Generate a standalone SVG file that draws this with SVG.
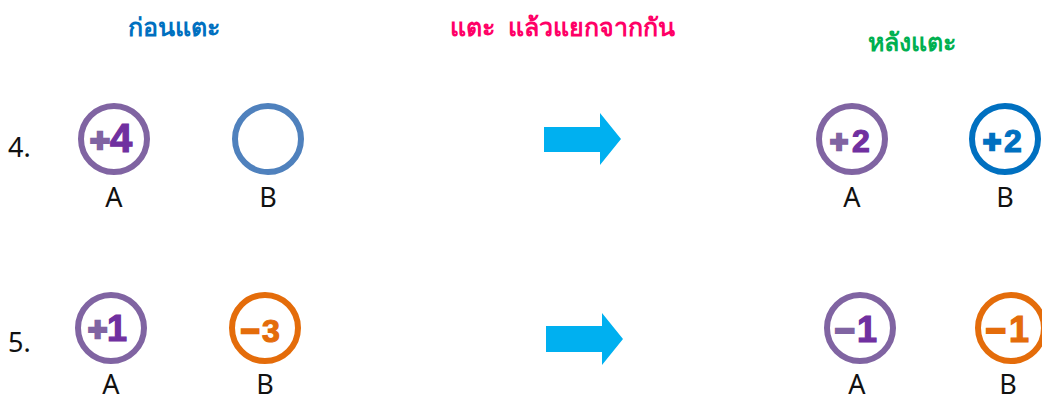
<svg xmlns="http://www.w3.org/2000/svg" width="1042" height="400" viewBox="0 0 1042 400">
<style>
.title{font-family:"Noto Sans","DejaVu Sans",sans-serif;font-weight:bold;font-size:25px}
.lbl{font-family:"Noto Sans","Open Sans",sans-serif;font-size:27px;fill:#111}
.num{font-family:"Liberation Sans",Arial,sans-serif;font-weight:bold}
.sg{stroke-width:2.6;stroke-linejoin:miter}
.dg{stroke-width:1.2}
.ring{fill:none;stroke-width:6}
.purple{stroke:#8064a2}
.sign-p{fill:#8064a2;stroke:#8064a2}
.dig-p{fill:#7030a0;stroke:#7030a0}
.blue{fill:#0070c0;stroke:#0070c0}
.orange{fill:#e46c0a;stroke:#e46c0a}
.arrow{fill:#00b0f0}
</style>
<rect width="1042" height="400" fill="#fff"/>
<g id="titles">
<text class="title" x="128" y="36" fill="#0070c0">ก่อนแตะ</text>
<text class="title" x="450" y="36" fill="#ff0066" xml:space="preserve">แตะ  แล้วแยกจากกัน</text>
<text class="title" x="868" y="51" fill="#00b050">หลังแตะ</text>
</g>
<g id="row4-label"><text class="lbl" x="8" y="157">4.</text></g>
<g id="row5-label"><text class="lbl" x="8" y="352">5.</text></g>
<g id="r4-before-A">
<circle class="ring purple" cx="114" cy="139" r="33"/>
<text class="num" y="152"><tspan class="sign-p sg" x="90" font-size="34">+</tspan><tspan class="dig-p dg" x="110" font-size="40">4</tspan></text>
<text class="lbl" x="114" y="207" text-anchor="middle">A</text>
</g>
<g id="r4-before-B">
<circle class="ring" stroke="#4f81bd" cx="268" cy="139" r="33"/>
<text class="lbl" x="268" y="207" text-anchor="middle">B</text>
</g>
<g id="r4-after-A">
<circle class="ring purple" cx="852" cy="139" r="33"/>
<text class="num" y="152"><tspan class="sign-p sg" x="830" font-size="31">+</tspan><tspan class="dig-p dg" x="852" font-size="32">2</tspan></text>
<text class="lbl" x="852" y="207" text-anchor="middle">A</text>
</g>
<g id="r4-after-B">
<circle class="ring" stroke="#0070c0" cx="1005" cy="139" r="33"/>
<text class="num blue" y="152"><tspan class="sg" x="983" font-size="31">+</tspan><tspan class="dg" x="1004" font-size="32">2</tspan></text>
<text class="lbl" x="1005" y="207" text-anchor="middle">B</text>
</g>
<g id="r5-before-A">
<circle class="ring purple" cx="111" cy="328" r="33"/>
<text class="num" y="341"><tspan class="sign-p sg" x="88" font-size="33">+</tspan><tspan class="dig-p dg" x="107" font-size="36">1</tspan></text>
<text class="lbl" x="111" y="394" text-anchor="middle">A</text>
</g>
<g id="r5-before-B">
<circle class="ring" stroke="#e46c0a" cx="265" cy="328" r="33"/>
<text class="num orange" y="342"><tspan class="sg" x="241" font-size="32">−</tspan><tspan class="dg" x="262" font-size="32">3</tspan></text>
<text class="lbl" x="265" y="394" text-anchor="middle">B</text>
</g>
<g id="r5-after-A">
<circle class="ring purple" cx="860" cy="328" r="33"/>
<text class="num" y="342"><tspan class="sign-p sg" x="835" font-size="34">−</tspan><tspan class="dig-p dg" x="857" font-size="36">1</tspan></text>
<text class="lbl" x="857" y="394" text-anchor="middle">A</text>
</g>
<g id="r5-after-B">
<circle class="ring" stroke="#e46c0a" cx="1011" cy="328" r="33"/>
<text class="num orange" y="342"><tspan class="sg" x="986" font-size="34">−</tspan><tspan class="dg" x="1009" font-size="36">1</tspan></text>
<text class="lbl" x="1008" y="394" text-anchor="middle">B</text>
</g>
<g id="connectors">
<polygon class="arrow" points="544,127 600,127 600,113 621,139 600,165 600,152 544,152"/>
<polygon class="arrow" points="546,326 602,326 602,313 623,339 602,365 602,352 546,352"/>
</g>
</svg>
